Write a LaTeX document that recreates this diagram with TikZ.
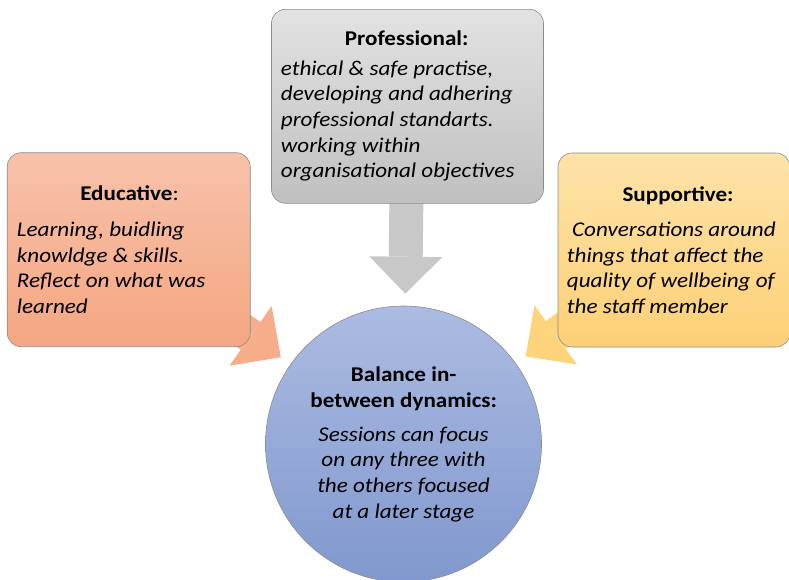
\documentclass[tikz,border=0pt]{standalone}
\usepackage{fontspec}
\setmainfont[FakeStretch=1.1]{Carlito}
\usetikzlibrary{positioning, arrows.meta, backgrounds}

\definecolor{eduTop}{RGB}{247,194,170}
\definecolor{eduBot}{RGB}{245,166,130}
\definecolor{proTop}{RGB}{226,226,226}
\definecolor{proBot}{RGB}{192,192,192}
\definecolor{supTop}{RGB}{253,227,168}
\definecolor{supBot}{RGB}{253,208,118}
\definecolor{balTop}{RGB}{172,187,226}
\definecolor{balBot}{RGB}{128,152,206}
\definecolor{eduArrow}{RGB}{247,172,138}
\definecolor{proArrow}{RGB}{200,200,200}
\definecolor{supArrow}{RGB}{253,212,124}

\tikzset{
	box/.style={draw=black!45, line width=0.6pt, rounded corners=14pt, minimum height=194pt},
	fatarrow/.style={line width=34pt, shorten >=12pt, -{Triangle[length=37pt, width=73pt, line width=0pt]}},
	head/.style={font=\fontsize{21}{26.5}\selectfont\bfseries, inner sep=0pt, anchor=base},
	body/.style={font=\fontsize{21}{25.6}\selectfont\itshape, inner sep=0pt, align=left, anchor=base west},
}

\begin{document}
\begin{tikzpicture}[x=1pt, y=-1pt]
	\useasboundingbox (0,0) rectangle (789,579);
	% Boxes and circle
	\node[box, top color=eduTop, bottom color=eduBot, minimum width=243pt] (edu) at (128.7,249.7) {};
	\node[box, top color=proTop, bottom color=proBot, minimum width=272pt] (prof) at (407.5,106.3) {};
	\node[box, top color=supTop, bottom color=supBot, minimum width=232pt] (sup) at (674,250) {};
	\node[circle, draw=black!45, line width=0.6pt, top color=balTop, bottom color=balBot, minimum size=276pt] (bal) at (403.5,444) {};
	% Arrows
	\begin{scope}[on background layer]
		\draw[fatarrow, eduArrow] (edu.center) -- (bal);
		\draw[fatarrow, proArrow] (prof.center) -- (bal);
		\draw[fatarrow, supArrow] (sup.center) -- (bal);
	\end{scope}
	% Labels (base = last line)
	\node[head] (eduHead) at (129.5,200) {Educative\mdseries:};
	\node[body] (eduBody) at (16.7,313.5) {Learning, buidling\\knowldge \& skills.\\Reflect on what was\\learned};
	\node[head] (profHead) at (406.7,45.5) {Professional:};
	\node[body] (profBody) at (280.7,177.7) {ethical \& safe practise,\\developing and adhering\\professional standarts.\\working within\\organisational objectives};
	\node[head] (supHead) at (678,201) {Supportive:};
	\node[body] (supBody) at (566.7,313.5) {\ Conversations around\\things that affect the\\quality of wellbeing of\\the staff member};
	\node[head, align=center] (balHead) at (403.7,407.5) {Balance in-\\between dynamics:};
	\node[body, align=center, anchor=base] (balBody) at (403.5,518) {Sessions can focus\\on any three with\\the others focused\\at a later stage};
\end{tikzpicture}
\end{document}
